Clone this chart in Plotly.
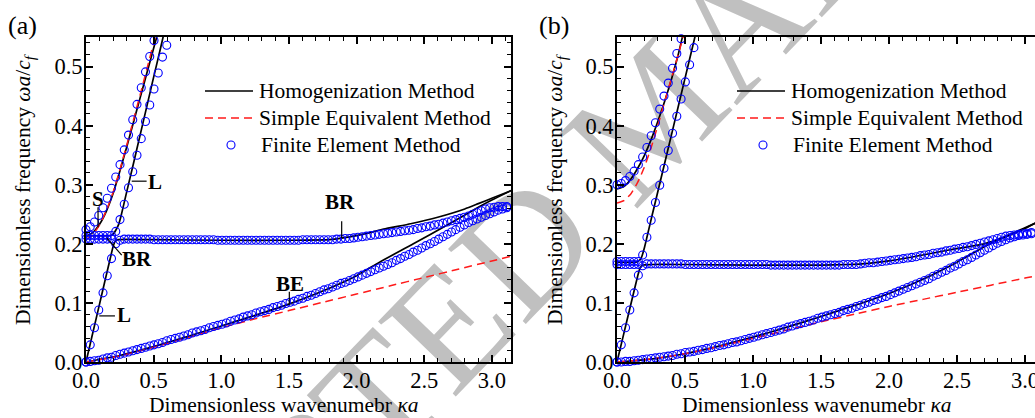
import numpy as np
import plotly.graph_objects as go

PI = np.pi
FEM_DK = PI / 100  # FEM wavenumber sampling step

# ---------------- Panel (a) data ----------------
a_hom_be_x = [0, 0.25, 0.5, 0.75, 1.0, 1.25, 1.5, 1.75, 2.0, 2.17, 2.42, 2.67, 2.91, 3.0, PI]
a_hom_be_y = [0, 0.011, 0.026, 0.043, 0.061, 0.079, 0.098, 0.12, 0.146, 0.169, 0.2, 0.232, 0.263, 0.274, 0.29]
a_hom_br_x = [0, 0.05, 0.1, 0.15, 0.18, 0.2, 0.215, 0.235, 0.5, 1.0, 1.5, 1.8, 1.9, 2.0, 2.1, 2.2, 2.4, 2.6, 2.8, 2.9, 3.0, PI]
a_hom_br_y = [0, 0.049, 0.098, 0.147, 0.176, 0.195, 0.204, 0.207, 0.207, 0.206, 0.206, 0.207, 0.21, 0.214, 0.219, 0.225, 0.234, 0.245, 0.259, 0.268, 0.277, 0.29]
a_hom_l_x = [0, 0.18, 0.2, 0.22, 0.24, 0.26, 0.3, 0.35, 0.4, 0.45, 0.5, 0.55, 0.58]
a_hom_l_y = [0.214, 0.214, 0.216, 0.223, 0.232, 0.248, 0.287, 0.335, 0.384, 0.433, 0.482, 0.53, 0.56]
a_hom_s_x = [0, 0.05, 0.1, 0.15, 0.2, 0.25, 0.3, 0.35, 0.4, 0.45, 0.5, 0.53]
a_hom_s_y = [0.213, 0.219, 0.233, 0.255, 0.285, 0.323, 0.363, 0.405, 0.447, 0.489, 0.531, 0.556]
a_sem_s_x = [0, 0.05, 0.1, 0.15, 0.2, 0.25, 0.3, 0.35, 0.4, 0.45, 0.5, 0.52]
a_sem_s_y = [0.207, 0.215, 0.232, 0.256, 0.287, 0.325, 0.366, 0.409, 0.452, 0.496, 0.54, 0.558]
a_sem_be_x = [0, 0.25, 0.5, 0.75, 1.0, 1.25, 1.5, 1.75, 2.0, 2.25, 2.5, 2.75, 3.0, PI]
a_sem_be_y = [0, 0.01, 0.025, 0.041, 0.058, 0.073, 0.087, 0.101, 0.115, 0.129, 0.143, 0.157, 0.171, 0.179]

a_fem_band1 = [0.000, 0.001, 0.002, 0.003, 0.005, 0.007, 0.008, 0.011, 0.013, 0.015,
               0.017, 0.019, 0.021, 0.023, 0.025, 0.027, 0.029, 0.031, 0.033, 0.036,
               0.038, 0.040, 0.042, 0.044, 0.046, 0.049, 0.051, 0.053, 0.055, 0.058,
               0.060, 0.062, 0.064, 0.066, 0.069, 0.071, 0.073, 0.076, 0.078, 0.080,
               0.083, 0.085, 0.087, 0.089, 0.092, 0.094, 0.096, 0.099, 0.101, 0.103,
               0.106, 0.108, 0.111, 0.113, 0.116, 0.119, 0.122, 0.124, 0.127, 0.130,
               0.133, 0.135, 0.138, 0.141, 0.144, 0.147, 0.150, 0.153, 0.156, 0.159,
               0.162, 0.165, 0.168, 0.172, 0.175, 0.179, 0.182, 0.186, 0.189, 0.193,
               0.197, 0.200, 0.204, 0.208, 0.212, 0.216, 0.220, 0.224, 0.228, 0.232,
               0.236, 0.239, 0.242, 0.245, 0.248, 0.251, 0.254, 0.257, 0.259, 0.261,
               0.262]
a_fem_band2 = [0.000, 0.029, 0.058, 0.088, 0.117, 0.146, 0.175, 0.200, 0.206, 0.208,
               0.208, 0.208, 0.208, 0.208, 0.208, 0.208, 0.207, 0.207, 0.207, 0.207,
               0.207, 0.207, 0.207, 0.207, 0.207, 0.207, 0.207, 0.207, 0.207, 0.207,
               0.207, 0.206, 0.206, 0.206, 0.206, 0.206, 0.206, 0.206, 0.206, 0.206,
               0.206, 0.206, 0.206, 0.206, 0.206, 0.206, 0.206, 0.206, 0.206, 0.206,
               0.206, 0.207, 0.207, 0.207, 0.207, 0.207, 0.207, 0.207, 0.207, 0.208,
               0.208, 0.209, 0.209, 0.210, 0.211, 0.212, 0.213, 0.214, 0.215, 0.216,
               0.217, 0.218, 0.219, 0.220, 0.221, 0.222, 0.223, 0.224, 0.226, 0.227,
               0.229, 0.230, 0.232, 0.233, 0.235, 0.237, 0.239, 0.241, 0.243, 0.245,
               0.247, 0.250, 0.253, 0.256, 0.259, 0.261, 0.262, 0.263, 0.263, 0.263,
               0.263]
a_fem_band3 = [0.214, 0.214, 0.214, 0.214, 0.214, 0.214, 0.214, 0.221, 0.241, 0.267,
               0.295, 0.322, 0.350, 0.378, 0.407, 0.435, 0.462, 0.489, 0.516, 0.536,
               0.553]
a_fem_band4 = [0.224, 0.229, 0.237, 0.248, 0.261, 0.277, 0.294, 0.313, 0.334, 0.359,
               0.384, 0.410, 0.436, 0.464, 0.491, 0.517, 0.544]
a_fem_flat = [0.208, 0.208, 0.208, 0.208, 0.208, 0.208, 0.208]

# ---------------- Panel (b) data ----------------
b_hom_be_x = [0, 0.25, 0.5, 0.75, 1.0, 1.25, 1.5, 1.75, 2.0, 2.25, 2.5, 2.75, 3.0, PI]
b_hom_be_y = [0, 0.005, 0.014, 0.027, 0.042, 0.059, 0.077, 0.096, 0.116, 0.140, 0.169, 0.201, 0.227, 0.242]
b_hom_br_x = [0, 0.05, 0.1, 0.14, 0.155, 0.17, 0.19, 0.25, 0.5, 1.0, 1.5, 1.7, 1.85, 2.0, 2.2, 2.45, 2.7, 2.87, 3.0, 3.074, PI]
b_hom_br_y = [0, 0.048, 0.096, 0.134, 0.148, 0.159, 0.164, 0.165, 0.165, 0.164, 0.164, 0.165, 0.167, 0.171, 0.179, 0.19, 0.2, 0.213, 0.226, 0.235, 0.243]
b_hom_l_x = [0, 0.14, 0.16, 0.18, 0.2, 0.22, 0.26, 0.3, 0.35, 0.4, 0.45, 0.5, 0.55, 0.58]
b_hom_l_y = [0.169, 0.169, 0.171, 0.177, 0.192, 0.211, 0.25, 0.288, 0.336, 0.384, 0.432, 0.48, 0.528, 0.557]
b_hom_s_x = [0, 0.05, 0.1, 0.15, 0.2, 0.25, 0.3, 0.35, 0.4, 0.45, 0.48, 0.49]
b_hom_s_y = [0.293, 0.297, 0.309, 0.327, 0.349, 0.376, 0.407, 0.441, 0.478, 0.52, 0.549, 0.558]
b_sem_s_x = [0, 0.05, 0.1, 0.15, 0.2, 0.25, 0.3, 0.35, 0.4, 0.45, 0.49]
b_sem_s_y = [0.269, 0.273, 0.284, 0.303, 0.329, 0.362, 0.4, 0.44, 0.48, 0.52, 0.553]
b_sem_be_x = [0, 0.25, 0.5, 0.75, 1.0, 1.25, 1.5, 1.75, 2.0, 2.25, 2.5, 2.75, 3.0, PI]
b_sem_be_y = [0, 0.005, 0.014, 0.026, 0.04, 0.054, 0.068, 0.081, 0.094, 0.106, 0.118, 0.13, 0.142, 0.148]

b_fem_band1 = [0.000, 0.000, 0.001, 0.001, 0.002, 0.003, 0.004, 0.005, 0.006, 0.007,
               0.008, 0.009, 0.010, 0.011, 0.013, 0.014, 0.016, 0.017, 0.018, 0.020,
               0.021, 0.023, 0.024, 0.026, 0.028, 0.029, 0.031, 0.033, 0.034, 0.036,
               0.038, 0.040, 0.042, 0.044, 0.046, 0.048, 0.050, 0.052, 0.054, 0.056,
               0.059, 0.061, 0.063, 0.065, 0.067, 0.069, 0.071, 0.074, 0.076, 0.078,
               0.080, 0.082, 0.084, 0.087, 0.089, 0.091, 0.094, 0.096, 0.099, 0.101,
               0.104, 0.106, 0.109, 0.111, 0.114, 0.117, 0.120, 0.123, 0.126, 0.129,
               0.132, 0.135, 0.138, 0.141, 0.145, 0.148, 0.152, 0.155, 0.159, 0.162,
               0.166, 0.170, 0.173, 0.177, 0.181, 0.185, 0.189, 0.193, 0.197, 0.201,
               0.204, 0.207, 0.210, 0.212, 0.214, 0.215, 0.216, 0.217, 0.218, 0.218,
               0.219]
b_fem_band2 = [0.000, 0.029, 0.058, 0.088, 0.117, 0.147, 0.163, 0.166, 0.166, 0.166,
               0.166, 0.166, 0.166, 0.166, 0.166, 0.166, 0.165, 0.165, 0.165, 0.165,
               0.165, 0.165, 0.165, 0.165, 0.165, 0.165, 0.165, 0.165, 0.165, 0.165,
               0.165, 0.165, 0.165, 0.165, 0.165, 0.165, 0.164, 0.164, 0.164, 0.164,
               0.164, 0.164, 0.164, 0.164, 0.164, 0.164, 0.164, 0.164, 0.164, 0.164,
               0.164, 0.164, 0.164, 0.165, 0.165, 0.165, 0.165, 0.166, 0.167, 0.168,
               0.168, 0.169, 0.170, 0.171, 0.172, 0.173, 0.174, 0.175, 0.176, 0.177,
               0.178, 0.180, 0.181, 0.182, 0.184, 0.185, 0.186, 0.188, 0.189, 0.191,
               0.192, 0.194, 0.195, 0.197, 0.199, 0.201, 0.203, 0.205, 0.207, 0.209,
               0.211, 0.213, 0.214, 0.215, 0.216, 0.217, 0.218, 0.219, 0.219, 0.219,
               0.219]
b_fem_band3 = [0.170, 0.170, 0.170, 0.170, 0.170, 0.170, 0.181, 0.211, 0.240, 0.270,
               0.299, 0.328, 0.358, 0.387, 0.416, 0.445, 0.474, 0.503, 0.532]
b_fem_band4 = [0.300, 0.302, 0.307, 0.314, 0.323, 0.334, 0.347, 0.363, 0.383, 0.405,
               0.428, 0.450, 0.472, 0.497, 0.522, 0.547]
b_fem_flat = [0.165, 0.165, 0.165, 0.165, 0.165, 0.165]

# ---------------- styling ----------------
W, H = 1035, 418
FONT = "Liberation Serif, Times New Roman, serif"
FS = 21.5
TFS = 22.5
BLUE = "#0000ff"
RED = "#ff1a1a"

fig = go.Figure()


def px_x(p):
    return p / W


def px_y(p):
    return 1 - p / H


def add_line(x, y, xa, ya, color, dash=None, width=1.7):
    fig.add_trace(go.Scatter(x=x, y=y, xaxis=xa, yaxis=ya, mode="lines",
                             line=dict(color=color, width=width, dash=dash,
                                       shape="spline", smoothing=0.5),
                             showlegend=False, hoverinfo="skip"))


def add_fem(band, xa, ya):
    xs = [k * FEM_DK for k in range(len(band))]
    fig.add_trace(go.Scatter(x=xs, y=band, xaxis=xa, yaxis=ya, mode="markers",
                             marker=dict(symbol="circle-open", size=8, color=BLUE,
                                         line=dict(width=1.1, color=BLUE)),
                             cliponaxis=False, showlegend=False, hoverinfo="skip"))


panels = {
    "a": dict(xa="x", ya="y",
              hom=[(a_hom_be_x, a_hom_be_y), (a_hom_br_x, a_hom_br_y), (a_hom_l_x, a_hom_l_y), (a_hom_s_x, a_hom_s_y)],
              sem=[(a_sem_be_x, a_sem_be_y), (a_sem_s_x, a_sem_s_y)],
              fem=[a_fem_band1, a_fem_band2, a_fem_band3, a_fem_band4, a_fem_flat]),
    "b": dict(xa="x2", ya="y2",
              hom=[(b_hom_be_x, b_hom_be_y), (b_hom_br_x, b_hom_br_y), (b_hom_l_x, b_hom_l_y), (b_hom_s_x, b_hom_s_y)],
              sem=[(b_sem_be_x, b_sem_be_y), (b_sem_s_x, b_sem_s_y)],
              fem=[b_fem_band1, b_fem_band2, b_fem_band3, b_fem_band4, b_fem_flat]),
}

for p in panels.values():
    for xv, yv in p["hom"]:
        add_line(xv, yv, p["xa"], p["ya"], "black")
    for xv, yv in p["sem"]:
        add_line(xv, yv, p["xa"], p["ya"], RED, dash="8px,5px", width=1.5)
    for band in p["fem"]:
        add_fem(band, p["xa"], p["ya"])

tickfont = dict(family=FONT, size=TFS, color="black")
common = dict(showline=True, linecolor="black", linewidth=2, ticks="inside", ticklen=7,
              tickwidth=1.5, tickcolor="black", showgrid=False, zeroline=False,
              tickfont=tickfont, tickformat=".1f", automargin=False, ticklabeloverflow="allow")
xminor = dict(dtick=0.1, ticks="inside", ticklen=4, tickwidth=1.2, tickcolor="black")
yminor = dict(dtick=0.02, ticks="inside", ticklen=4, tickwidth=1.2, tickcolor="black")

xdom_a = [px_x(86), px_x(511)]
xdom_b = [px_x(617), 1.0]
ydom = [px_y(362), px_y(37)]

fig.update_layout(
    width=W, height=H, margin=dict(l=0, r=0, t=0, b=0, pad=0, autoexpand=False),
    paper_bgcolor="white", plot_bgcolor="rgba(0,0,0,0)", showlegend=False,
    xaxis=dict(domain=xdom_a, range=[0, PI], tick0=0, dtick=0.5, mirror="allticks", anchor="y",
               ticklabelstandoff=-3, minor=xminor, **common),
    yaxis=dict(domain=ydom, range=[0, 0.55], tick0=0, dtick=0.1, mirror="allticks", anchor="x",
               ticklabelstandoff=-3, minor=yminor, **common),
    xaxis2=dict(domain=xdom_b, range=[0, (W - 617) / 136.0], tick0=0, dtick=0.5, mirror="allticks", anchor="y2",
                ticklabelstandoff=-3, minor=xminor, **common),
    yaxis2=dict(domain=ydom, range=[0, 0.55], tick0=0, dtick=0.1, mirror=False, anchor="x2",
                ticklabelstandoff=-3, minor=yminor, **common),
)

ann = []


def text_ann(text, xp, yp, size=FS, angle=0, xanchor="center", yanchor="middle"):
    ann.append(dict(text=text, x=xp, y=yp, xref="paper", yref="paper",
                    showarrow=False, textangle=angle, xanchor=xanchor, yanchor=yanchor,
                    font=dict(family=FONT, size=size, color="black")))


# panel letters
text_ann("(a)", px_x(22), px_y(25), size=26)
text_ann("(b)", px_x(554), px_y(25), size=26)
ytitle = "Dimensionless frequency <i>ωa</i>/<i>c</i><sub><i>f</i></sub>"
xtitle = "Dimensionless wavenumebr <i>κa</i>"
for xc in (24, 556):
    text_ann(ytitle, px_x(xc), px_y(190), angle=-90)
for xc in (283, 816):
    text_ann(xtitle, px_x(xc), px_y(405))

shapes = []
# legends
for off in (0, 532):
    shapes.append(dict(type="line", xref="paper", yref="paper", x0=px_x(205 + off), x1=px_x(253 + off),
                       y0=px_y(91), y1=px_y(91), line=dict(color="black", width=1.7)))
    shapes.append(dict(type="line", xref="paper", yref="paper", x0=px_x(205 + off), x1=px_x(253 + off),
                       y0=px_y(118), y1=px_y(118), line=dict(color=RED, width=1.5, dash="8px,5px")))
    shapes.append(dict(type="circle", xref="paper", yref="paper", xsizemode="pixel", ysizemode="pixel",
                       xanchor=px_x(231 + off), yanchor=px_y(145), x0=-4, x1=4, y0=-4, y1=4,
                       line=dict(color=BLUE, width=1.1)))
    for txt, xl, yl in (("Homogenization Method", 257, 91), ("Simple Equivalent Method", 257, 118),
                        ("Finite Element Method", 259, 145)):
        text_ann(txt, px_x(xl + off), px_y(yl), xanchor="left")

# mode labels and pointers in panel (a)
labels = [("S", 0.089, 0.276), ("L", 0.51, 0.305), ("BR", 0.38, 0.175), ("L", 0.281, 0.079),
          ("BR", 1.877, 0.271), ("BE", 1.508, 0.132)]
for t, lx, ly in labels:
    ann.append(dict(text="<b>%s</b>" % t, x=lx, y=ly, xref="x", yref="y", showarrow=False,
                    xanchor="center", yanchor="middle",
                    font=dict(family=FONT, size=21, color="black")))
pointers = [((0.089, 0.262), (0.089, 0.228)), ((0.338, 0.306), (0.448, 0.306)),
            ((0.153, 0.21), (0.264, 0.181)), ((0.098, 0.078), (0.214, 0.078)),
            ((1.89, 0.238), (1.89, 0.21)), ((1.503, 0.119), (1.503, 0.097))]
for (x0, y0), (x1, y1) in pointers:
    shapes.append(dict(type="line", xref="x", yref="y", x0=x0, y0=y0, x1=x1, y1=y1,
                       line=dict(color="black", width=1.2)))

# watermark (below the data)
cx, cy, half, ang = 640, 100, 300, np.deg2rad(46)
shapes.append(dict(type="line", xref="paper", yref="paper", layer="below",
                   x0=px_x(cx - half * np.cos(ang)), y0=px_y(cy + half * np.sin(ang)),
                   x1=px_x(cx + half * np.cos(ang)), y1=px_y(cy - half * np.sin(ang)),
                   line=dict(color="rgba(0,0,0,0)", width=0),
                   label=dict(text="ACCEPTED MANUSCRIPT", textposition="middle", yanchor="middle", padding=0,
                              font=dict(family=FONT, size=165, color="rgb(192,192,192)"))))

fig.update_layout(annotations=ann, shapes=shapes)
fig.write_html("out.html")
